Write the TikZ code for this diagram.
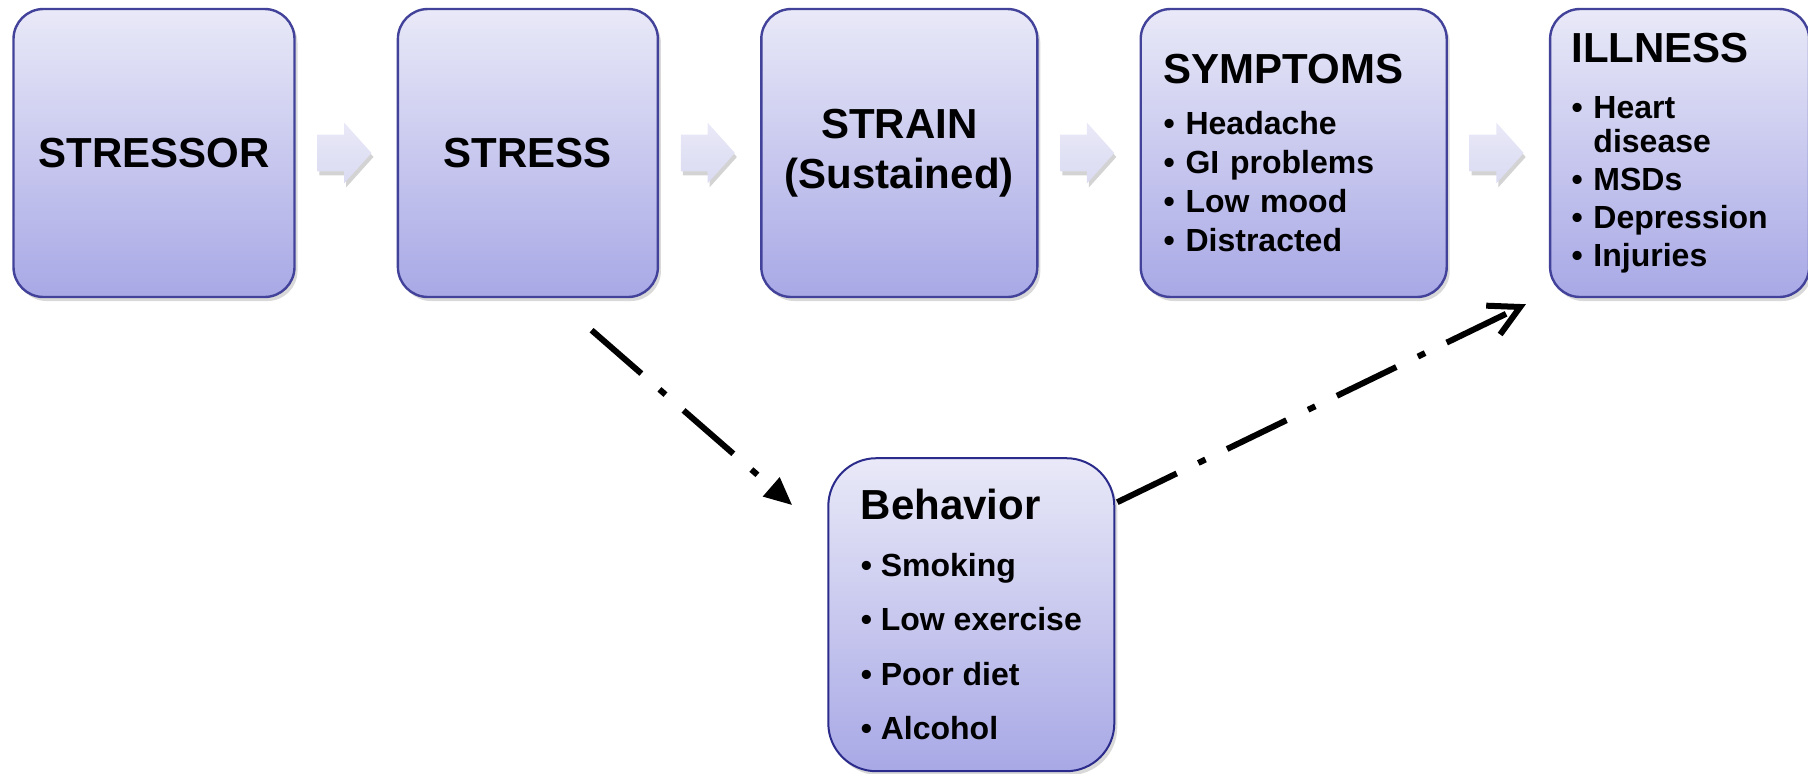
\documentclass[tikz,border=0pt]{standalone}
\usepackage{fontspec}
\setmainfont{Liberation Sans}
\usetikzlibrary{arrows.meta, positioning, shapes.arrows, shadows, calc}

\definecolor{boxtop}{HTML}{E9E9F8}
\definecolor{boxbottom}{HTML}{A8A8E6}
\definecolor{boxline}{HTML}{42429A}
\definecolor{behaviorline}{HTML}{2B2B8C}
\definecolor{arrowtop}{HTML}{E9E9F8}
\definecolor{arrowbottom}{HTML}{DADAF2}

\begin{document}
\begin{tikzpicture}[
			x=0.5pt, y=-0.5pt,
			node distance=80.5pt and 50.5pt,
			every node/.style={font=\bfseries},
			stage/.style={rectangle, draw=boxline, line width=1.2pt, rounded corners=15pt, top color=boxtop, bottom color=boxbottom, minimum height=144pt, inner sep=0pt, drop shadow={opacity=.3, shadow xshift=1.5pt, shadow yshift=-2pt}},
			headbox/.style={stage, align=center, font=\bfseries\fontsize{21}{25}\selectfont},
			listbox/.style={stage, align=left, font=\bfseries\fontsize{16}{19.5}\selectfont},
			flow/.style={single arrow, single arrow head extend=6pt, single arrow tip angle=96, minimum height=27pt, inner xsep=0pt, inner ysep=9pt, xshift=-5pt, draw=none, top color=arrowtop, bottom color=arrowbottom, drop shadow={opacity=.35, shadow xshift=1pt, shadow yshift=-2pt}},
			dashdot/.style={line width=3pt, dash pattern=on 33pt off 12pt on 4pt off 12pt}
			]

			\useasboundingbox (0,0) rectangle (1808,773);

			\node[headbox, minimum width=140.5pt] (stressor) at (154,153) {STRESSOR};
			\node[headbox, minimum width=130pt, right=of stressor] (stress) {STRESS};
			\node[headbox, minimum width=138pt, right=of stress] (strain) {STRAIN\\(Sustained)};
			\node[listbox, text width=130pt, inner xsep=11.5pt, right=of strain] (symptoms) {{\fontsize{21}{25}\selectfont SYMPTOMS}\\[6.25pt]
				\textbullet\ Headache\\\textbullet\ GI problems\\\textbullet\ Low mood\\\textbullet\ Distracted};
			\node[listbox, font=\bfseries\fontsize{16}{19}\selectfont, text width=108pt, inner xsep=10.75pt, right=of symptoms] (illness) {{\fontsize{21}{25}\selectfont ILLNESS}\\[8.7pt]
				\textbullet\ Heart\\[-2pt]\phantom{\textbullet\ }disease\\\textbullet\ MSDs\\\textbullet\ Depression\\\textbullet\ Injuries};
			\node[listbox, font=\bfseries\fontsize{16}{27.3}\selectfont, draw=behaviorline, line width=1pt, rounded corners=24pt, minimum width=143pt, minimum height=156.5pt, below=79.5pt of strain, xshift=36pt] (behavior) {{\fontsize{21}{25}\selectfont Behavior}\\[1pt]
				\textbullet\ Smoking\\\textbullet\ Low exercise\\\textbullet\ Poor diet\\\textbullet\ Alcohol};

			\node[flow] (a1) at ($(stressor.east)!.5!(stress.west)$) {};
			\node[flow] (a2) at ($(stress.east)!.5!(strain.west)$) {};
			\node[flow] (a3) at ($(strain.east)!.5!(symptoms.west)$) {};
			\node[flow] (a4) at ($(symptoms.east)!.5!(illness.west)$) {};

			\draw[dashdot, -{Triangle[length=14pt, width=12pt]}] ([xshift=-33.75pt, yshift=-16pt]stress.south east) -- ([xshift=-17.5pt, yshift=-24pt]behavior.north west);
			\draw[dashdot, -{Straight Barb[length=15pt, width=16pt]}] ([xshift=1pt, yshift=-22.5pt]behavior.north east) -- ([xshift=-11.5pt, yshift=-3pt]illness.south west);

		\end{tikzpicture}
\end{document}
